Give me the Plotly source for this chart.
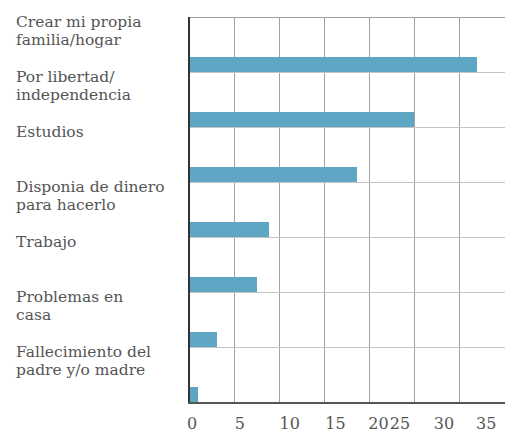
import plotly.graph_objects as go

# ---- data ----
categories = [
    "Crear mi propia<br>familia/hogar",
    "Por libertad/<br>independencia",
    "Estudios",
    "Disponia de dinero<br>para hacerlo",
    "Trabajo",
    "Problemas en<br>casa",
    "Fallecimiento del<br>padre y/o madre",
]
values = [32.0, 25.0, 18.6, 8.8, 7.5, 3.0, 0.9]
tick_labels = ["0", "5", "10", "15", "20", "25", "30", "35"]
# where the (misaligned) tick labels sit along the value axis
tick_label_pos = [0.22, 5.54, 11.1, 16.2, 21.0, 23.4, 28.3, 33.0]

# ---- style ----
FONT = "DejaVu Serif"
TEXT = "#555555"
BAR = "#5fa5c4"
BAR_W = 0.27
n = len(categories)

fig = go.Figure()
fig.add_trace(go.Bar(
    x=values,
    y=[i + 1 - BAR_W / 2 for i in range(n)],
    orientation="h",
    width=BAR_W,
    marker=dict(color=BAR, line=dict(width=0)),
    hoverinfo="x",
))
fig.add_trace(go.Scatter(x=[None], y=[None], xaxis="x2", yaxis="y",
                         showlegend=False, hoverinfo="skip"))

annotations = []
LINE = 0.32
for i, lab in enumerate(categories):
    for j, line in enumerate(lab.split("<br>")):
        annotations.append(dict(
            text=line, xref="paper", x=-176 / 315, xanchor="left",
            yref="y", y=i + 0.09 + j * LINE, yanchor="middle",
            showarrow=False, font=dict(family=FONT, size=15.5, color=TEXT),
        ))

fig.update_layout(
    width=505, height=430,
    margin=dict(l=190, r=0, t=17, b=28),
    paper_bgcolor="white", plot_bgcolor="white",
    showlegend=False,
    bargap=0,
    annotations=annotations,
    font=dict(family=FONT),
    xaxis=dict(
        range=[0, 35.1], dtick=5, tick0=0,
        showgrid=True, gridcolor="#a0a0a0", gridwidth=1,
        zeroline=False, showticklabels=False,
        showline=True, linecolor="#555555", linewidth=2,
        automargin=False, fixedrange=True,
    ),
    xaxis2=dict(
        overlaying="x", anchor="y", side="bottom",
        range=[0, 35.1], tickmode="array",
        tickvals=tick_label_pos, ticktext=tick_labels,
        showgrid=False, zeroline=False, showline=False,
        ticks="", ticklabelstandoff=10, tickangle=0,
        tickfont=dict(family=FONT, size=16, color=TEXT),
        automargin=False, fixedrange=True,
    ),
    yaxis=dict(
        range=[n, 0], dtick=1, tick0=0,
        showgrid=True, gridcolor="#c4c4c4", gridwidth=1,
        zeroline=True, zerolinecolor="#a0a0a0", zerolinewidth=1,
        showticklabels=False,
        showline=True, linecolor="#333333", linewidth=1.5,
        automargin=False, fixedrange=True,
    ),
)

fig.write_html(
    "out.html",
    config={"displayModeBar": False},
    post_script="document.body.style.margin='0';document.body.style.overflow='hidden';",
)
